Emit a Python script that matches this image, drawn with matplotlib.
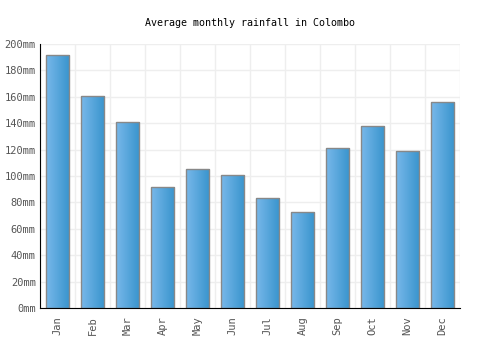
import matplotlib.pyplot as plt
import numpy as np
from matplotlib.colors import LinearSegmentedColormap

months = ['Jan', 'Feb', 'Mar', 'Apr', 'May', 'Jun',
          'Jul', 'Aug', 'Sep', 'Oct', 'Nov', 'Dec']
rainfall = [192, 161, 141, 92, 105, 101, 83, 73, 121, 138, 119, 156]

plt.rcParams['font.family'] = ['DejaVu Sans Mono']

fig = plt.figure(figsize=(5, 3.5), dpi=100)
ax = fig.add_axes([0.08, 0.12, 0.84, 0.754])

x = np.arange(len(months))
bars = ax.bar(x, rainfall, width=0.67, facecolor='none',
              edgecolor='#888888', linewidth=1, zorder=3)

# horizontal gradient inside each bar
cmap = LinearSegmentedColormap.from_list('blu', ['#78b8ea', '#3894cd'])
grad = np.linspace(0, 1, 64).reshape(1, -1)
for b in bars:
    x0, w, h = b.get_x(), b.get_width(), b.get_height()
    im = ax.imshow(grad, cmap=cmap, aspect='auto', extent=[x0, x0 + w, 0, h],
                   zorder=2, interpolation='bilinear')
    im.set_clip_path(b)

ax.set_xlim(-0.5, 11.5)
ax.set_ylim(0, 200)
ax.set_xticks(x)
ax.set_xticklabels(months, rotation=90, fontsize=7.5, color='#555555')
ax.set_xticks(np.arange(-0.5, 12, 1), minor=True)
yt = np.arange(0, 201, 20)
ax.set_yticks(yt)
ax.set_yticklabels([f'{v}mm' for v in yt], fontsize=7.5, color='#555555')
ax.tick_params(which='both', length=0)
ax.tick_params(axis='x', pad=6)
ax.tick_params(axis='y', pad=3)
ax.grid(axis='y', color='#eeeeee', linewidth=1, zorder=0)
ax.grid(axis='x', which='minor', color='#eeeeee', linewidth=1, zorder=0)
for s in ['top', 'right']:
    ax.spines[s].set_visible(False)
for s in ['left', 'bottom']:
    ax.spines[s].set_color('black')
    ax.spines[s].set_zorder(4)

fig.suptitle('Average monthly rainfall in Colombo', fontsize=7.2, y=0.95)

fig.savefig('out.png', dpi=100)
